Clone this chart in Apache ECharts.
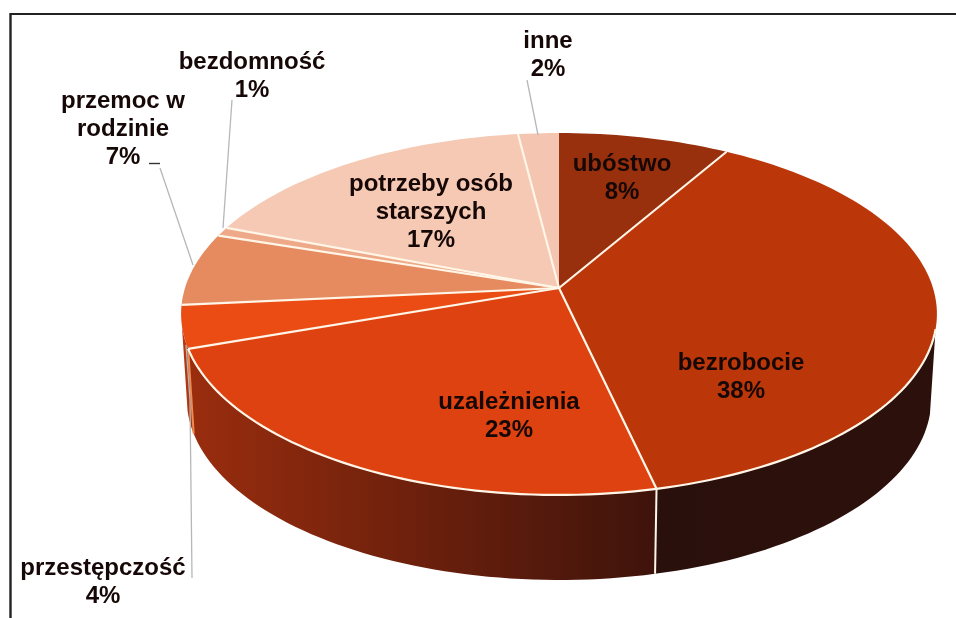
<!DOCTYPE html>
<html><head><meta charset="utf-8">
<style>html,body{margin:0;padding:0;background:#fff}#c{width:956px;height:618px}</style>
<script src="https://cdn.jsdelivr.net/npm/echarts@6/dist/echarts.min.js"></script>
</head><body><div id="c"></div>
<script>
// Data (clockwise from the top); slice sizes estimated,
// the printed labels are these values rounded to whole percent
var categories = ['ubóstwo','bezrobocie','uzależnienia','przestępczość','przemoc w\nrodzinie','bezdomność','potrzeby osób\nstarszych','inne'];
var shares = [8.4,38,23.3,3.8,6.5,0.8,17.2,2];

// Styling
var topColors = ['#98300e','#bb3709','#de4211','#ea4c14','#e68a5f','#eeaa88','#f5c9b3','#f4c5b0'];
var sideColors = [null,['#2a100c','#2c100b'],['#9a2d0e','#3e130b'],['#b93a10','#a8330f'],null,null,null,null];
var labelPos = [[622,178],[741,377],[509,416],[103,582],[123,129],[252,76],[431,212],[548,55]];
var leaders = [null,null,null,[[186,345],[190,400],[192,578]],[[160,168],[193,265]],[[232,100],[223,228]],null,[[527,80],[538,135]]];

// Perspective projection of the pie disc
var AX=559, AY=288, KP=0.1436, AV=-135.9, BU=374, DEPTH=85, FRONT0=103, FRONT1=258;
function proj(deg, r, dy, s){
  var t=deg*Math.PI/180, u=r*Math.sin(t), v=r*Math.cos(t), w=1+KP*v;
  s=s||1;
  return [AX+s*BU*u/w, (AY+AV*v)/w+(dy||0)];
}
function arc(a,b,dy,s){
  var n=Math.max(2,Math.ceil(Math.abs(b-a)/1.5)),p=[];
  for(var i=0;i<=n;i++)p.push(proj(a+(b-a)*i/n,1,dy,s));
  return p;
}
var total=shares.reduce(function(a,b){return a+b},0);
var cum=[0];shares.forEach(function(v,i){cum.push(cum[i]+v)});
var RIM='#fff6e8';

function renderItem(params,api){
  var i=params.dataIndex;
  var share=api.value(0);
  var a=cum[i]/total*360, b=a+share/total*360;
  var kids=[];
  // side wall, front part only
  var f0=Math.max(a,FRONT0), f1=Math.min(b,FRONT1);
  if(f1>f0){
    var up=arc(f0,f1,0), low=arc(f0,f1,DEPTH,0.985).reverse();
    var xs=up.concat(low).map(function(p){return p[0]});
    var sc=sideColors[i];
    kids.push({type:'polygon',z2:0,shape:{points:up.concat(low)},style:{
      fill:new echarts.graphic.LinearGradient(Math.max.apply(null,xs),0,Math.min.apply(null,xs),0,
        [{offset:0,color:sc[1]},{offset:1,color:sc[0]}],true)}});
    if(i!==3)kids.push({type:'polyline',z2:3,shape:{points:up},style:{stroke:RIM,fill:null,lineWidth:2.2}});
  }
  // wall divider at the slice start
  if(a>=FRONT0&&a<=FRONT1){
    kids.push({type:'line',z2:2,shape:{x1:proj(a,1)[0],y1:proj(a,1)[1],x2:proj(a,1,DEPTH,0.985)[0],y2:proj(a,1,DEPTH,0.985)[1]},
      style:{stroke:i===3?'#f08a50':RIM,lineWidth:2}});
  }
  // top face
  kids.push({type:'polygon',z2:1,shape:{points:[[AX,AY]].concat(arc(a,b,0))},style:{fill:topColors[i]}});
  // radial separator (none between the last and the first slice)
  if(i>0){
    var e=proj(a,1);
    kids.push({type:'line',z2:3,shape:{x1:AX,y1:AY,x2:e[0],y2:e[1]},style:{stroke:RIM,lineWidth:2.2}});
  }
  // leader line
  if(leaders[i]){
    kids.push({type:'polyline',z2:2,shape:{points:leaders[i]},style:{stroke:'#b4b8bc',fill:null,lineWidth:1.3}});
  }
  // label
  kids.push({type:'text',z2:5,x:labelPos[i][0],y:labelPos[i][1],style:{
    text:categories[i]+'\n'+Math.round(share)+'%',align:'center',verticalAlign:'middle',
    fontFamily:'"Liberation Sans",Arial,sans-serif',fontWeight:'bold',fontSize:24,lineHeight:28,fill:'#160806'}});
  return {type:'group',children:kids};
}

var chart=echarts.init(document.getElementById('c'),null,{renderer:'canvas'});
chart.setOption({
  animation:false,
  backgroundColor:'#fff',
  graphic:[
    {type:'line',shape:{x1:10,y1:14,x2:956,y2:14},style:{stroke:'#222',lineWidth:2}},
    {type:'line',shape:{x1:10.5,y1:13,x2:10.5,y2:618},style:{stroke:'#222',lineWidth:2.4}},
    {type:'line',shape:{x1:149,y1:163.5,x2:160,y2:163.5},style:{stroke:'#333',lineWidth:1.4}}
  ],
  series:[{type:'custom',coordinateSystem:'none',renderItem:renderItem,clip:false,
    data:categories.map(function(n,i){return {name:n,value:[shares[i]]}})}]
});
</script></body></html>
